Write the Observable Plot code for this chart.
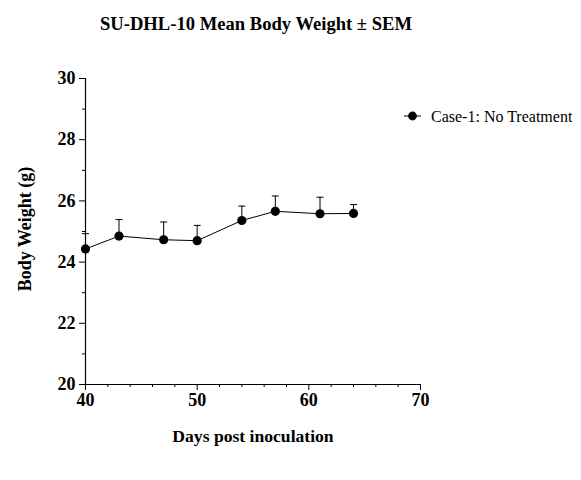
<!DOCTYPE html>
<html>
<head>
<meta charset="utf-8">
<script src="https://cdn.jsdelivr.net/npm/d3@7"></script>
<script src="https://cdn.jsdelivr.net/npm/@observablehq/plot@0.6"></script>
<style>
  html, body { margin: 0; padding: 0; background: #fff; }
  #chart svg { display: block; }
</style>
</head>
<body>
<div id="chart"></div>
<script>
const days = [40, 43, 47, 50, 54, 57, 61, 64];
const means = [24.43, 24.85, 24.73, 24.70, 25.36, 25.66, 25.58, 25.59];
const sems = [0.50, 0.54, 0.58, 0.50, 0.47, 0.50, 0.54, 0.29];
const xMajor = [40, 50, 60, 70];
const xMinor = [42, 44, 46, 48, 52, 54, 56, 58, 62, 64, 66, 68];
const yMajor = [20, 22, 24, 26, 28, 30];
const yMinor = [21, 23, 25, 27, 29];
const titleText = "SU-DHL-10 Mean Body Weight \u00b1 SEM";
const xLabel = "Days post inoculation";
const yLabel = "Body Weight (g)";
const seriesName = "Case-1: No Treatment";

const data = days.map((d, i) => ({day: d, mean: means[i], upper: means[i] + sems[i]}));

const capSymbol = {
  draw(context, size) {
    const w = Math.sqrt(size / Math.PI);
    context.moveTo(-w, 0);
    context.lineTo(w, 0);
  }
};

const font = "'Liberation Serif', 'Times New Roman', serif";

const plot = Plot.plot({
  width: 581,
  height: 480,
  marginLeft: 85,
  marginRight: 161,
  marginTop: 78,
  marginBottom: 96,
  style: {fontFamily: font, background: "#fff", color: "#000"},
  x: {domain: [40, 70]},
  y: {domain: [20, 30]},
  marks: [
    Plot.axisX({ticks: xMajor, tickSize: 6, tickPadding: 3, fontSize: "18px", fontWeight: "bold", label: null, stroke: "#000"}),
    Plot.axisX({ticks: xMinor, tickSize: 3, text: null, label: null, stroke: "#000"}),
    Plot.axisY({ticks: yMajor, tickSize: 6, tickPadding: 4, fontSize: "18px", fontWeight: "bold", label: null, stroke: "#000"}),
    Plot.axisY({ticks: yMinor, tickSize: 3, text: null, label: null, stroke: "#000"}),
    Plot.ruleX([40], {stroke: "#000", strokeWidth: 1.2}),
    Plot.ruleY([20], {stroke: "#000", strokeWidth: 1.2}),
    Plot.ruleX(data, {x: "day", y1: "mean", y2: "upper", stroke: "#000", strokeWidth: 1}),
    Plot.dot(data, {x: "day", y: "upper", symbol: capSymbol, r: 3.5, stroke: "#000", strokeWidth: 1, fill: "none"}),
    Plot.line(data, {x: "day", y: "mean", stroke: "#000", strokeWidth: 1}),
    Plot.dot(data, {x: "day", y: "mean", r: 4.6, fill: "#000", stroke: "none"})
  ]
});

const svg = d3.select(plot);
svg.append("text")
  .attr("x", 256).attr("y", 30)
  .attr("text-anchor", "middle")
  .style("font-family", font).style("font-weight", "bold").style("font-size", "18.6px")
  .attr("fill", "#000")
  .text(titleText);
svg.append("text")
  .attr("x", 253).attr("y", 442)
  .attr("text-anchor", "middle")
  .style("font-family", font).style("font-weight", "bold").style("font-size", "17.6px")
  .attr("fill", "#000")
  .text(xLabel);
svg.append("text")
  .attr("transform", "translate(31,229) rotate(-90)")
  .attr("text-anchor", "middle")
  .style("font-family", font).style("font-weight", "bold").style("font-size", "18px")
  .attr("fill", "#000")
  .text(yLabel);

const lg = svg.append("g").attr("transform", "translate(404,116)");
lg.append("line").attr("x1", 0).attr("x2", 17).attr("y1", 0).attr("y2", 0).attr("stroke", "#000").attr("stroke-width", 1);
lg.append("circle").attr("cx", 8.5).attr("cy", 0).attr("r", 4.4).attr("fill", "#000");
lg.append("text")
  .attr("x", 27).attr("y", 0).attr("dy", "0.35em")
  .attr("text-anchor", "start")
  .style("font-family", font).style("font-size", "16px")
  .attr("fill", "#000")
  .text(seriesName);

document.getElementById("chart").appendChild(plot);
</script>
</body>
</html>
